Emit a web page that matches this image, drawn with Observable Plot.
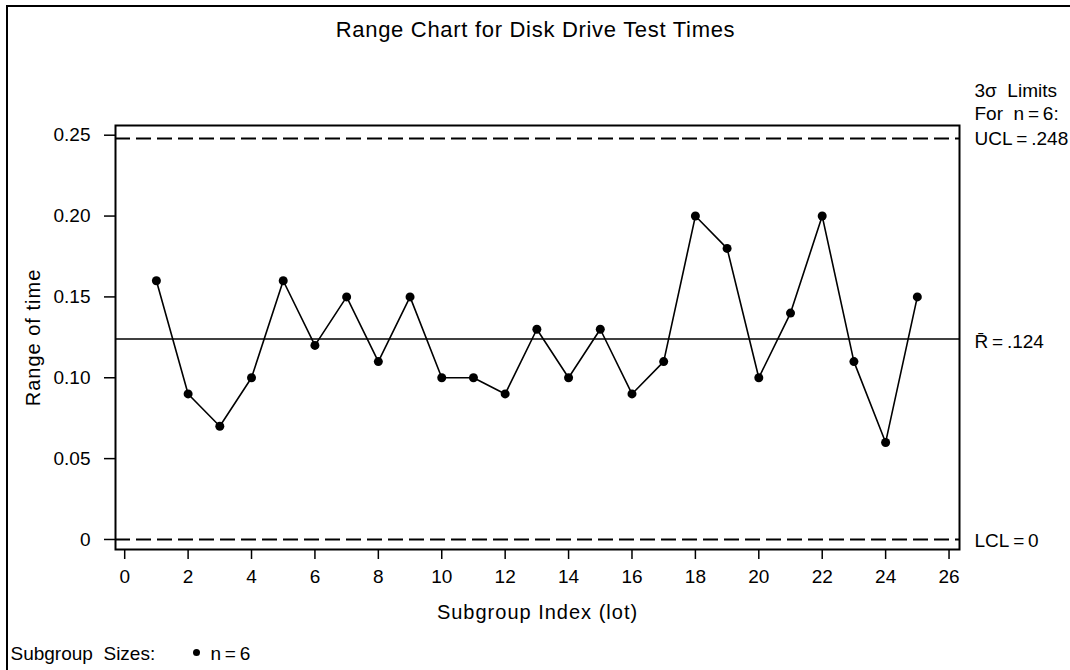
<!DOCTYPE html>
<html>
<head>
<meta charset="utf-8">
<script src="https://cdn.jsdelivr.net/npm/d3@7"></script>
<script src="https://cdn.jsdelivr.net/npm/@observablehq/plot@0.6"></script>
<style>
  html, body { margin: 0; padding: 0; background: #fff; overflow: hidden; }
  #wrap { position: absolute; left: 0; top: 0; width: 1070px; height: 670px; overflow: hidden; }
  #border { position: absolute; left: 6px; top: 5px; width: 2000px; height: 2000px; border-left: 2px solid #000; border-top: 2px solid #000; box-sizing: border-box; pointer-events: none; }
</style>
</head>
<body>
<div id="wrap"><div id="border"></div></div>
<script>
const lots = [1,2,3,4,5,6,7,8,9,10,11,12,13,14,15,16,17,18,19,20,21,22,23,24,25];
const ranges = [0.16,0.09,0.07,0.10,0.16,0.12,0.15,0.11,0.15,0.10,0.10,0.09,0.13,0.10,0.13,0.09,0.11,0.20,0.18,0.10,0.14,0.20,0.11,0.06,0.15];
const ucl = 0.248;
const rbar = 0.124;
const lcl = 0;
const xTicks = [0,2,4,6,8,10,12,14,16,18,20,22,24,26];
const yTicks = [0,0.05,0.10,0.15,0.20,0.25];
const yTickLabels = ["0","0.05","0.10","0.15","0.20","0.25"];
const titleText = "Range Chart for Disk Drive Test Times";
const xLabel = "Subgroup Index (lot)";
const yLabel = "Range of time";

const data = lots.map((lot, i) => ({lot, range: ranges[i]}));
const font = "'Liberation Sans', Arial, Helvetica, sans-serif";

const chart = Plot.plot({
  width: 1070,
  height: 670,
  marginLeft: 115,
  marginRight: 111,
  marginTop: 125,
  marginBottom: 121,
  style: {fontFamily: font, fontSize: "19px", color: "#000", background: "transparent"},
  x: {domain: [-0.29, 26.33]},
  y: {domain: [-0.0062, 0.256]},
  marks: [
    Plot.ruleY([ucl, lcl], {strokeDasharray: "15,6", strokeWidth: 2}),
    Plot.ruleY([rbar], {strokeWidth: 1.5}),
    Plot.line(data, {x: "lot", y: "range", strokeWidth: 1.6}),
    Plot.dot(data, {x: "lot", y: "range", r: 4.5, fill: "#000", stroke: "none"}),
    Plot.frame({strokeWidth: 2}),
    Plot.axisY({ticks: yTicks, tickSize: 11, tickPadding: 14, strokeWidth: 1.5,
      tickFormat: d => yTickLabels[yTicks.indexOf(d)] ?? d,
      label: yLabel, labelAnchor: "center", labelOffset: 90, labelArrow: "none"}),
    Plot.axisX({ticks: xTicks, tickSize: 10, tickPadding: 10, strokeWidth: 1.5,
      label: xLabel, labelAnchor: "center", labelOffset: 69, labelArrow: "none"}),
    Plot.text([titleText], {frameAnchor: "top", dy: -104, dx: -2, fontSize: 22}),
    Plot.text(["3\u03c3  Limits"], {y: [ucl], frameAnchor: "right", dx: 15, dy: -48, textAnchor: "start"}),
    Plot.text(["For  n\u2009=\u20096:"], {y: [ucl], frameAnchor: "right", dx: 15, dy: -25, textAnchor: "start"}),
    Plot.text(["UCL\u2009=\u2009.248"], {y: [ucl], frameAnchor: "right", dx: 15, textAnchor: "start"}),
    Plot.text(["R\u0304\u2009=\u2009.124"], {y: [rbar], frameAnchor: "right", dx: 15, dy: 3, textAnchor: "start"}),
    Plot.text(["LCL\u2009=\u20090"], {y: [lcl], frameAnchor: "right", dx: 15, dy: 1, textAnchor: "start"}),
    Plot.text(["Subgroup  Sizes:"], {frameAnchor: "bottom-left", dx: -105, dy: 110, textAnchor: "start"}),
    Plot.dot([0], {frameAnchor: "bottom-left", dx: 81, dy: 103, r: 3.5, fill: "#000", stroke: "none"}),
    Plot.text(["n\u2009=\u20096"], {frameAnchor: "bottom-left", dx: 95, dy: 110, textAnchor: "start"})
  ]
});
chart.style.position = "absolute";
chart.style.left = "0px";
chart.style.top = "0px";
document.getElementById("wrap").appendChild(chart);
d3.select(chart).selectAll("text").filter(function() { return this.textContent === titleText; })
  .attr("letter-spacing", "0.7px");
d3.select(chart).selectAll("text").filter(function() { return this.textContent === xLabel || this.textContent === yLabel; })
  .attr("letter-spacing", "1px").style("font-size", "20px");
</script>
</body>
</html>
